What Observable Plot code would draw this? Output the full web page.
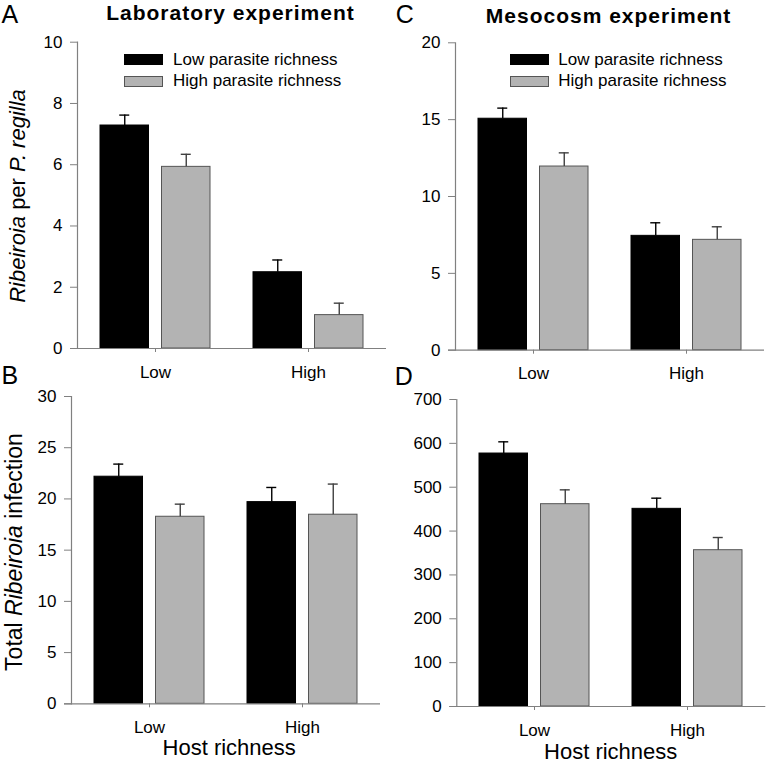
<!DOCTYPE html>
<html><head><meta charset="utf-8">
<script src="https://cdn.jsdelivr.net/npm/d3@7"></script>
<script src="https://cdn.jsdelivr.net/npm/@observablehq/plot@0.6"></script>
<style>
body{margin:0;background:#fff;}
#fig{position:relative;width:768px;height:764px;overflow:hidden;font-family:"Liberation Sans",Arial,sans-serif;color:#000;background:#fff;}
#fig > *{position:absolute;}
.t{white-space:nowrap;line-height:1;}
</style></head><body><div id="fig"></div>
<script>
// ---- data ----
const hosts = ["Low", "High"];
const parasiteLevels = ["Low parasite richness", "High parasite richness"];

// Panel A: Ribeiroia per P. regilla (laboratory)
const labPerHostLowPar = [7.28, 2.49];
const labPerHostLowParSE = [0.34, 0.40];
const labPerHostHighPar = [5.93, 1.09];
const labPerHostHighParSE = [0.41, 0.39];
const ticksA = [0, 2, 4, 6, 8, 10];

// Panel B: Total Ribeiroia infection (laboratory)
const labTotalLowPar = [22.17, 19.69];
const labTotalLowParSE = [1.23, 1.43];
const labTotalHighPar = [18.26, 18.46];
const labTotalHighParSE = [1.23, 2.99];
const ticksB = [0, 5, 10, 15, 20, 25, 30];

// Panel C: Ribeiroia per P. regilla (mesocosm)
const mesoPerHostLowPar = [15.06, 7.44];
const mesoPerHostLowParSE = [0.69, 0.85];
const mesoPerHostHighPar = [11.95, 7.18];
const mesoPerHostHighParSE = [0.89, 0.85];
const ticksC = [0, 5, 10, 15, 20];

// Panel D: Total Ribeiroia infection (mesocosm)
const mesoTotalLowPar = [576.8, 450.7];
const mesoTotalLowParSE = [26.7, 24.3];
const mesoTotalHighPar = [461.3, 356.4];
const mesoTotalHighParSE = [32.7, 28.9];
const ticksD = [0, 100, 200, 300, 400, 500, 600, 700];

const titles = ["Laboratory experiment", "Mesocosm experiment"];
const panelLetters = ["A", "B", "C", "D"];
const xTitle = "Host richness";

// ---- drawing ----
const fig = document.getElementById("fig");
const AXIS = "#808080";
const GRAY = "#b3b3b3";
const GRAY_STROKE = "#555555";
const TICK_FONT = 17;

function rows(low, lowSE, high, highSE) {
  const out = [];
  hosts.forEach((h, i) => {
    out.push({host: h, series: parasiteLevels[0], mean: low[i], se: lowSE[i]});
    out.push({host: h, series: parasiteLevels[1], mean: high[i], se: highSE[i]});
  });
  return out;
}

function panel(cfg) {
  const data = rows(cfg.low, cfg.lowSE, cfg.high, cfg.highSE);
  const s0 = d => d.series === parasiteLevels[0];
  const s1 = d => d.series === parasiteLevels[1];
  const top = d => d.mean + d.se;
  const svg = Plot.plot({
    width: cfg.width, height: cfg.height,
    marginLeft: cfg.mL, marginRight: cfg.mR, marginTop: cfg.mT, marginBottom: cfg.mB,
    style: {background: "transparent", overflow: "visible", fontFamily: "'Liberation Sans', Arial, sans-serif", fontSize: TICK_FONT + "px"},
    x: {domain: hosts, paddingInner: 0.2792, paddingOuter: 0.1429},
    y: {domain: [0, cfg.ticks[cfg.ticks.length - 1]]},
    marks: [
      Plot.barY(data, {filter: s0, x: "host", y: "mean", fill: "black", stroke: "black", strokeWidth: 1, insetRight: 61.5}),
      Plot.barY(data, {filter: s1, x: "host", y: "mean", fill: GRAY, stroke: GRAY_STROKE, strokeWidth: 1, insetLeft: 61.5}),
      Plot.ruleX(data, {filter: s0, x: "host", y1: "mean", y2: top, dx: -30.75, stroke: "black", strokeWidth: 1.4}),
      Plot.ruleX(data, {filter: s1, x: "host", y1: "mean", y2: top, dx: 30.75, stroke: "#404040", strokeWidth: 1.4}),
      Plot.tickY(data, {filter: s0, x: "host", y: top, insetLeft: 19.25, insetRight: 80.75, stroke: "black", strokeWidth: 1.4}),
      Plot.tickY(data, {filter: s1, x: "host", y: top, insetLeft: 80.75, insetRight: 19.25, stroke: "#404040", strokeWidth: 1.4}),
      Plot.frame({anchor: "left", stroke: AXIS, strokeWidth: 1.2}),
      Plot.ruleY([0], {stroke: AXIS, strokeWidth: 1.2, insetLeft: -7}),
      Plot.axisY({ticks: cfg.ticks, tickSize: 7, tickPadding: 8, stroke: AXIS, fill: "black", fontSize: TICK_FONT, label: null}),
      Plot.axisX({tickSize: 4, tickPadding: 13, stroke: AXIS, fill: "black", fontSize: TICK_FONT, label: null})
    ]
  });
  svg.style.left = cfg.left + "px";
  svg.style.top = cfg.top + "px";
  fig.appendChild(svg);
}

panel({low: labPerHostLowPar, lowSE: labPerHostLowParSE, high: labPerHostHighPar, highSE: labPerHostHighParSE,
  ticks: ticksA, left: 0, top: 0, width: 386, height: 390, mL: 77, mR: 0, mT: 41.7, mB: 42});
panel({low: mesoPerHostLowPar, lowSE: mesoPerHostLowParSE, high: mesoPerHostHighPar, highSE: mesoPerHostHighParSE,
  ticks: ticksC, left: 384, top: 0, width: 384, height: 390, mL: 71, mR: 4, mT: 42.3, mB: 40.3});
panel({low: labTotalLowPar, lowSE: labTotalLowParSE, high: labTotalHighPar, highSE: labTotalHighParSE,
  ticks: ticksB, left: 0, top: 360, width: 386, height: 404, mL: 71, mR: 6, mT: 36, mB: 60.7});
panel({low: mesoTotalLowPar, lowSE: mesoTotalLowParSE, high: mesoTotalHighPar, highSE: mesoTotalHighParSE,
  ticks: ticksD, left: 384, top: 360, width: 384, height: 404, mL: 72.3, mR: 2.7, mT: 39, mB: 58});

// ---- text ----
// top = baseline - 0.8465 * fontSize (line-height: 1)
function text(html, {x, baseline, size, weight = "normal", anchor = "start", spacing = 0}) {
  const el = document.createElement("div");
  el.className = "t";
  el.innerHTML = html;
  el.style.fontSize = size + "px";
  el.style.fontWeight = weight;
  el.style.letterSpacing = spacing + "px";
  el.style.left = x + "px";
  el.style.top = (baseline - 0.8465 * size) + "px";
  if (anchor === "middle") el.style.transform = "translateX(-50%)";
  fig.appendChild(el);
  return el;
}
function vtext(html, {cx, cy, size}) {
  const el = document.createElement("div");
  el.className = "t";
  el.innerHTML = html;
  el.style.fontSize = size + "px";
  el.style.left = cx + "px";
  el.style.top = cy + "px";
  el.style.transform = "translate(-50%,-50%) rotate(-90deg)";
  fig.appendChild(el);
}

text(panelLetters[0], {x: 1.5, baseline: 22.7, size: 25});
text(panelLetters[1], {x: 1.5, baseline: 384.3, size: 25});
text(panelLetters[2], {x: 395.8, baseline: 23.3, size: 25});
text(panelLetters[3], {x: 394.8, baseline: 385, size: 25});

text(titles[0], {x: 230.5, baseline: 19.5, size: 21, weight: "bold", anchor: "middle", spacing: 1});
text(titles[1], {x: 608.5, baseline: 22.7, size: 21, weight: "bold", anchor: "middle", spacing: 1});

text(xTitle, {x: 229.2, baseline: 755.5, size: 22, anchor: "middle"});
text(xTitle, {x: 610.7, baseline: 759.5, size: 22, anchor: "middle"});

vtext("<i>Ribeiroia</i> per <i>P. regilla</i>", {cx: 18.4, cy: 196, size: 22});
vtext("Total <i>Ribeiroia</i> infection", {cx: 13.5, cy: 552, size: 23});

// legends
function legend(swatchX, textX) {
  const fills = ["black", GRAY];
  const strokes = ["black", GRAY_STROKE];
  const swTop = [54, 76];
  const base = [65, 86.5];
  parasiteLevels.forEach((lab, i) => {
    const sw = document.createElement("div");
    sw.style.left = swatchX + "px";
    sw.style.top = swTop[i] + "px";
    sw.style.width = "39px";
    sw.style.height = "10.5px";
    sw.style.boxSizing = "border-box";
    sw.style.background = fills[i];
    sw.style.border = "1px solid " + strokes[i];
    fig.appendChild(sw);
    text(lab, {x: textX, baseline: base[i], size: 17});
  });
}
legend(124.3, 173);
legend(509.7, 558.3);
</script>
</body></html>
